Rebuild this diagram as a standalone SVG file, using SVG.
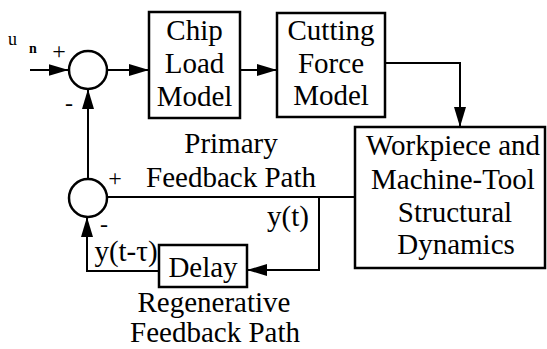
<svg xmlns="http://www.w3.org/2000/svg" width="547" height="349" viewBox="0 0 547 349">
  <style>
    .blk { fill: #fff; stroke: #000; stroke-width: 2.5; }
    .sum { fill: #fff; stroke: #000; stroke-width: 2.5; }
    .wire { fill: none; stroke: #000; stroke-width: 2; }
    text { font-family: "Liberation Serif", "Times New Roman", serif; fill: #000; }
    .lbl { font-size: 29px; text-anchor: middle; }
    .sign { font-size: 24px; text-anchor: middle; }
  </style>
  <defs>
    <marker id="arrow" viewBox="0 0 20 12" refX="20" refY="6" markerWidth="20" markerHeight="12" markerUnits="userSpaceOnUse" orient="auto">
      <path d="M0,0 L20,6 L0,12 Z" fill="#000"/>
    </marker>
  </defs>
  <rect width="547" height="349" fill="#fff"/>

  <!-- connectors -->
  <g id="connectors">
    <path class="wire" d="M30,70 H68.5" marker-end="url(#arrow)"/>
    <path class="wire" d="M107.5,70 H149" marker-end="url(#arrow)"/>
    <path class="wire" d="M240,70 H277" marker-end="url(#arrow)"/>
    <path class="wire" d="M385,63 H460 V127" marker-end="url(#arrow)"/>
    <path class="wire" d="M355,197 H107.5"/>
    <path class="wire" d="M88,178 V89" marker-end="url(#arrow)"/>
    <path class="wire" d="M319,197 V270 H247" marker-end="url(#arrow)"/>
    <path class="wire" d="M159,271 H87 V217" marker-end="url(#arrow)"/>
  </g>

  <!-- input label and summing junctions -->
  <g id="input">
    <text x="8" y="45" font-size="18">u</text>
    <text x="29" y="53" font-size="14" font-weight="bold">n</text>
    <text class="sign" x="59" y="59">+</text>
  </g>
  <g id="sum1">
    <circle class="sum" cx="88" cy="70" r="19"/>
    <text class="sign" x="69" y="111">-</text>
  </g>
  <g id="sum2">
    <circle class="sum" cx="88" cy="198" r="19"/>
    <text class="sign" x="115" y="186">+</text>
    <text class="sign" x="104" y="232" font-size="16">-</text>
  </g>

  <!-- blocks -->
  <g id="chip-load">
    <rect class="blk" x="149" y="12" width="91" height="106"/>
    <text class="lbl" x="194.5" y="40">Chip</text>
    <text class="lbl" x="194.5" y="73">Load</text>
    <text class="lbl" x="194.5" y="106">Model</text>
  </g>
  <g id="cutting-force">
    <rect class="blk" x="277" y="13" width="108" height="104"/>
    <text class="lbl" x="331" y="40">Cutting</text>
    <text class="lbl" x="331" y="73">Force</text>
    <text class="lbl" x="331" y="105">Model</text>
  </g>
  <g id="structure">
    <rect class="blk" x="355" y="127" width="190" height="141"/>
    <text class="lbl" x="453" y="155">Workpiece  and</text>
    <text class="lbl" x="453" y="189">Machine-Tool</text>
    <text class="lbl" x="455" y="222">Structural</text>
    <text class="lbl" x="456" y="254">Dynamics</text>
  </g>
  <g id="delay">
    <rect class="blk" x="159" y="245" width="88" height="42"/>
    <text class="lbl" x="203" y="277">Delay</text>
  </g>

  <!-- path labels -->
  <g id="labels">
    <text class="lbl" x="231" y="153">Primary</text>
    <text class="lbl" x="231" y="187">Feedback Path</text>
    <text class="lbl" x="288" y="226">y(t)</text>
    <text class="lbl" x="126" y="261">y(t-τ)</text>
    <text class="lbl" x="214" y="312">Regenerative</text>
    <text class="lbl" x="215" y="342">Feedback Path</text>
  </g>
</svg>
